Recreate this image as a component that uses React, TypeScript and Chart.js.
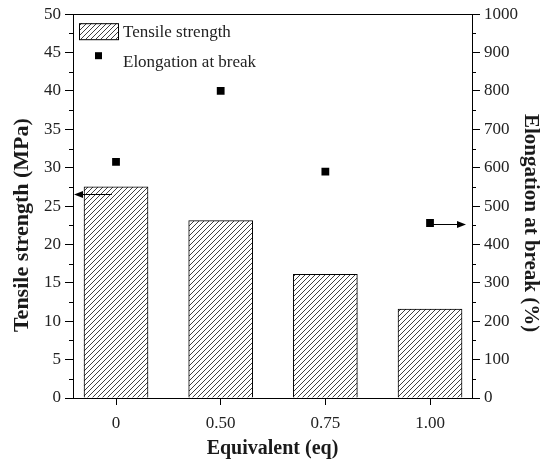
import React, { useEffect, useRef } from 'react';
import { Chart, registerables } from 'chart.js';

Chart.register(...registerables);

const categories = ['0', '0.50', '0.75', '1.00'];
const tensileStrength = [27.5, 23.1, 16.1, 11.6];
const elongationAtBreak = [615, 800, 590, 456];
const leftArrowValue = 26.6; // MPa level of the left-pointing arrow
const leftMinorTicks = [2.5, 7.5, 12.5, 17.5, 22.5, 27.5, 32.5, 37.5, 42.5, 47.5];
const rightMinorTicks = [50, 150, 250, 350, 450, 550, 650, 750, 850, 950];

const FONT = '"Liberation Serif", "Times New Roman", serif';

function makeHatch(ctx: CanvasRenderingContext2D): CanvasPattern {
  const s = 5;
  const c = document.createElement('canvas');
  c.width = s;
  c.height = s;
  const g = c.getContext('2d')!;
  g.fillStyle = '#fff';
  g.fillRect(0, 0, s, s);
  g.strokeStyle = '#2a2a2a';
  g.lineWidth = 0.9;
  g.beginPath();
  g.moveTo(-1, s + 1);
  g.lineTo(s + 1, -1);
  g.moveTo(-1, 1);
  g.lineTo(1, -1);
  g.moveTo(s - 1, s + 1);
  g.lineTo(s + 1, s - 1);
  g.stroke();
  return ctx.createPattern(c, 'repeat')!;
}

function drawArrow(ctx: CanvasRenderingContext2D, x1: number, x2: number, y: number) {
  const dir = x2 > x1 ? 1 : -1;
  const headLen = 9;
  ctx.beginPath();
  ctx.moveTo(x1, y);
  ctx.lineTo(x2 - dir * headLen, y);
  ctx.stroke();
  ctx.beginPath();
  ctx.moveTo(x2, y);
  ctx.lineTo(x2 - dir * headLen, y - 3.5);
  ctx.lineTo(x2 - dir * headLen, y + 3.5);
  ctx.closePath();
  ctx.fill();
}

export default function App() {
  const ref = useRef<HTMLCanvasElement | null>(null);

  useEffect(() => {
    const canvas = ref.current!;
    const ctx0 = canvas.getContext('2d')!;
    const hatch = makeHatch(ctx0);

    const decor = {
      id: 'decor',
      afterDraw(chart: any) {
        const { ctx, chartArea, scales } = chart;
        const { left, right, top, bottom } = chartArea;
        const xs = scales.x, ys = scales.y, y2s = scales.y2;
        ctx.save();
        ctx.strokeStyle = '#000';
        ctx.fillStyle = '#000';
        ctx.lineWidth = 1;

        // top frame line
        ctx.beginPath();
        ctx.moveTo(left, Math.round(top) + 0.5);
        ctx.lineTo(right + 0.5, Math.round(top) + 0.5);
        ctx.stroke();

        // minor ticks
        ctx.beginPath();
        leftMinorTicks.forEach((v) => {
          const py = Math.round(ys.getPixelForValue(v)) + 0.5;
          ctx.moveTo(left - 4, py);
          ctx.lineTo(left, py);
        });
        rightMinorTicks.forEach((v) => {
          const py = Math.round(y2s.getPixelForValue(v)) + 0.5;
          ctx.moveTo(right, py);
          ctx.lineTo(right + 4, py);
        });
        ctx.stroke();

        // arrows
        drawArrow(ctx, xs.getPixelForValue(-0.04), left + 1, Math.round(ys.getPixelForValue(leftArrowValue)) + 0.5);
        drawArrow(ctx, xs.getPixelForValue(3), right - 6, Math.round(y2s.getPixelForValue(elongationAtBreak[3])) + 1.5);

        // legend
        const lx = left + 6;
        const ly = top + 9;
        ctx.fillStyle = hatch;
        ctx.fillRect(lx, ly, 39, 16);
        ctx.strokeRect(lx + 0.5, ly + 0.5, 39, 16);
        ctx.fillStyle = '#000';
        ctx.fillRect(lx + 16, ly + 29, 7, 7);
        ctx.fillStyle = '#222';
        ctx.font = `17px ${FONT}`;
        ctx.textBaseline = 'middle';
        ctx.textAlign = 'left';
        ctx.fillText(chart.data.datasets[0].label, lx + 44, ly + 9);
        ctx.fillText(chart.data.datasets[1].label, lx + 44, ly + 39);

        // axis titles
        ctx.textAlign = 'center';
        ctx.fillStyle = '#1a1a1a';
        ctx.font = `bold 20px ${FONT}`;
        ctx.fillText('Equivalent (eq)', (left + right) / 2, bottom + 51);

        const midY = (top + bottom) / 2 + 19;
        ctx.save();
        ctx.font = `bold 22px ${FONT}`;
        ctx.translate(22, midY);
        ctx.rotate(-Math.PI / 2);
        ctx.fillText('Tensile strength (MPa)', 0, 0);
        ctx.restore();

        ctx.save();
        ctx.font = `bold 21px ${FONT}`;
        ctx.translate(right + 58, midY - 2);
        ctx.rotate(Math.PI / 2);
        ctx.fillText('Elongation at break (%)', 0, 0);
        ctx.restore();

        ctx.restore();
      },
    };

    const tickFont = { family: FONT, size: 17 };

    const chart = new Chart(canvas, {
      type: 'bar',
      data: {
        datasets: [
          {
            type: 'bar',
            label: 'Tensile strength',
            data: categories.map((_, i) => ({ x: i, y: tensileStrength[i] })),
            xAxisID: 'x',
            yAxisID: 'y',
            backgroundColor: hatch,
            borderColor: '#000',
            borderWidth: 1,
            barThickness: 64,
            order: 2,
          } as any,
          {
            type: 'scatter',
            label: 'Elongation at break',
            data: categories.map((_, i) => ({ x: i, y: elongationAtBreak[i] })),
            xAxisID: 'x',
            yAxisID: 'y2',
            pointStyle: 'rect',
            pointRadius: 5.5,
            backgroundColor: '#000',
            borderColor: '#000',
            borderWidth: 0,
            showLine: false,
            order: 1,
          } as any,
        ],
      },
      options: {
        responsive: false,
        animation: false,
        devicePixelRatio: 1,
        layout: { padding: { top: 14, left: 0, right: 0, bottom: 0 } },
        plugins: {
          legend: { display: false },
          tooltip: { enabled: false },
        },
        scales: {
          x: {
            type: 'linear',
            position: 'bottom',
            offset: false,
            min: -0.411,
            max: 3.401,
            afterBuildTicks: (scale: any) => {
              scale.ticks = categories.map((_, i) => ({ value: i }));
            },
            afterFit: (scale: any) => {
              scale.height = 64;
            },
            ticks: {
              callback: (v: any) => categories[Math.round(v as number)] ?? '',
              color: '#222',
              font: tickFont,
              padding: 8,
              maxRotation: 0,
            },
            grid: { offset: false, drawOnChartArea: false, drawTicks: true, tickLength: 7, color: '#000' },
            border: { display: true, color: '#000', width: 1 },
          },
          y: {
            type: 'linear',
            position: 'left',
            min: 0,
            max: 50,
            ticks: { stepSize: 5, color: '#222', font: tickFont, padding: 4, callback: (v: any) => String(v) },
            afterFit: (scale: any) => {
              scale.width = 73;
            },
            grid: { drawOnChartArea: false, drawTicks: true, tickLength: 8, color: '#000' },
            border: { display: true, color: '#000', width: 1 },
          },
          y2: {
            type: 'linear',
            position: 'right',
            min: 0,
            max: 1000,
            ticks: { stepSize: 100, color: '#222', font: tickFont, padding: 4, callback: (v: any) => String(v) },
            afterFit: (scale: any) => {
              scale.width = 74;
            },
            grid: { drawOnChartArea: false, drawTicks: true, tickLength: 8, color: '#000' },
            border: { display: true, color: '#000', width: 1 },
          },
        },
      } as any,
      plugins: [decor],
    });

    return () => chart.destroy();
  }, []);

  return (
    <div style={{ position: 'absolute', left: 0, top: 0, width: 546, height: 462, background: '#fff' }}>
      <canvas ref={ref} width={546} height={462} style={{ width: 546, height: 462, display: 'block' }} />
    </div>
  );
}
